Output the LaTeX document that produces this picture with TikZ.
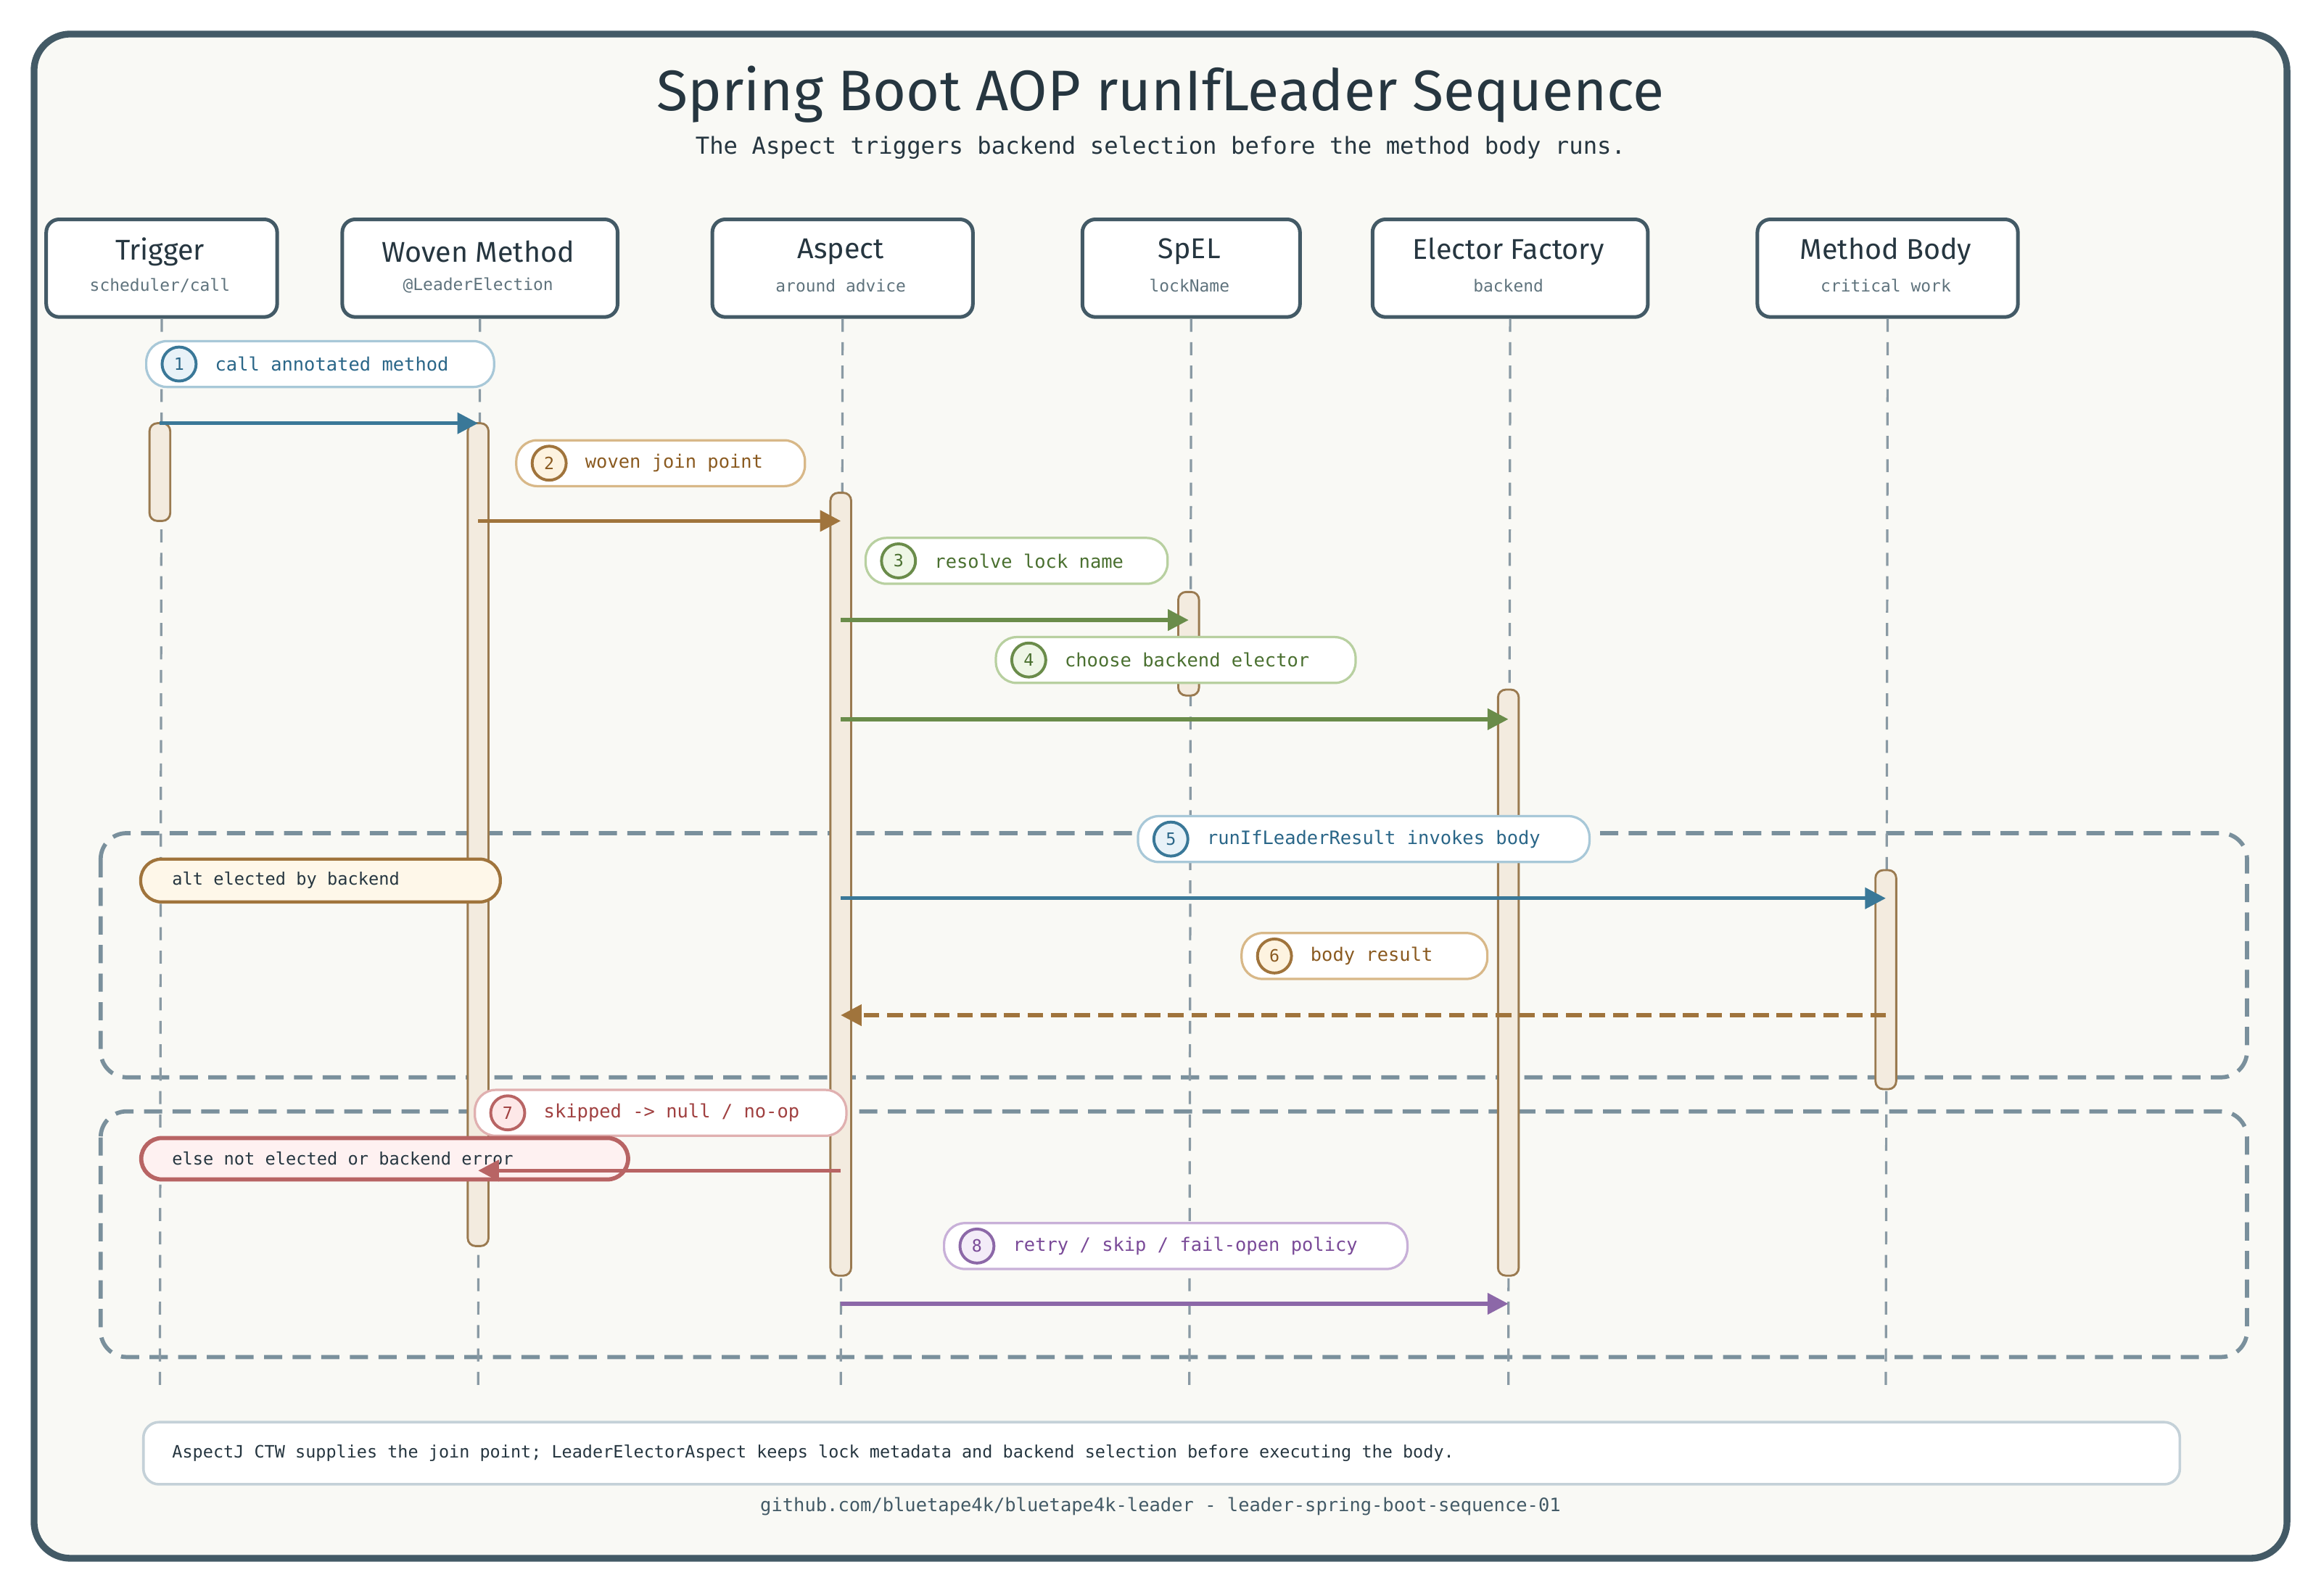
\documentclass[tikz,border=0pt]{standalone}
\usepackage{fontspec}
\setmainfont{Fira Sans}
\setmonofont{DejaVu Sans Mono}
\usetikzlibrary{arrows.meta}
\definecolor{ink}{HTML}{263640}
\definecolor{frame}{HTML}{435A66}
\definecolor{life}{HTML}{8A9AA4}
\definecolor{altc}{HTML}{7A909C}
\definecolor{actf}{HTML}{F3EBDF}
\definecolor{acts}{HTML}{9A7A50}
\definecolor{bgc}{HTML}{F9F9F5}
\definecolor{bD}{HTML}{3A7898}\definecolor{bL}{HTML}{A8C8D8}\definecolor{bF}{HTML}{E8F2F8}\definecolor{bT}{HTML}{2A6688}
\definecolor{nD}{HTML}{A0743C}\definecolor{nL}{HTML}{D8B888}\definecolor{nF}{HTML}{FDF3E0}\definecolor{nT}{HTML}{8A5A20}
\definecolor{gD}{HTML}{6A8C4A}\definecolor{gL}{HTML}{B8D0A0}\definecolor{gF}{HTML}{EEF6E6}\definecolor{gT}{HTML}{4A7030}
\definecolor{rD}{HTML}{B86464}\definecolor{rL}{HTML}{E0B0B0}\definecolor{rF}{HTML}{FDE8E8}\definecolor{rT}{HTML}{A04040}
\definecolor{pD}{HTML}{8C68A8}\definecolor{pL}{HTML}{C8B0D8}\definecolor{pF}{HTML}{F3ECF8}\definecolor{pT}{HTML}{7A4A98}
\tikzset{
 part/.style={draw=frame,line width=1.4pt,fill=white,rounded corners=5pt,minimum height=1.32cm,anchor=north west},
 lifeline/.style={draw=life,line width=0.9pt,dash pattern=on 5pt off 4pt},
 act/.style={draw=acts,fill=actf,line width=0.8pt,rounded corners=3pt},
 msg/.style={line width=1.5pt,-{Triangle[length=8pt,width=8pt]}},
 altbox/.style={draw=altc,line width=1.6pt,dash pattern=on 7pt off 4pt,rounded corners=10pt},
 mono/.style={font=\ttfamily\fontsize{7.1}{8}\selectfont},
}
\newcommand{\pill}[7]{% name x1 x2 y num text colprefix
 \node[draw=#7L,line width=0.9pt,fill=white,rounded corners=8pt,minimum width={(#3-#2)*0.02cm},minimum height=0.62cm,anchor=west] (#1) at (#2,#4) {};
 \node[draw=#7D,line width=1.1pt,fill=#7F,circle,inner sep=0pt,minimum size=0.46cm,text=#7T,font=\ttfamily\fontsize{6.5}{7}\selectfont] (#1c) at (#2+23,#4) {#5};
 \node[anchor=west,text=#7T,mono,inner sep=0pt] (#1t) at (#2+47,#4) {#6};
}
\begin{document}
\begin{tikzpicture}[x=0.02cm,y=-0.02cm]
\useasboundingbox (0,0) rectangle (1568,1078);
\fill[white] (0,0) rectangle (1568,1078);
\draw[frame,fill=bgc,line width=2.6pt,rounded corners=14pt] (23,23) rectangle (1545,1053);
\node[font=\fontsize{22}{26}\selectfont,text=ink] (title) at (784,64) {Spring Boot AOP runIfLeader Sequence};
\node[font=\ttfamily\fontsize{9}{11}\selectfont,text=ink] (sub) at (784,100) {The Aspect triggers backend selection before the method body runs.};
% alt frames
\draw[altbox] (68,563) rectangle (1518,728);
\draw[altbox] (68,751) rectangle (1518,917);
% participants
\foreach \n/\a/\b/\t/\s in {trig/30/186/Trigger/scheduler\slash call,woven/230/416/Woven Method/@LeaderElection,asp/480/656/Aspect/around advice,spel/730/877/SpEL/lockName,elec/926/1112/Elector Factory/backend,body/1186/1362/Method Body/critical work}{
 \node[part,minimum width={(\b-\a)*0.02cm}] (\n) at (\a,147) {};
 \node[font=\fontsize{11}{13}\selectfont,text=ink] (\n n) at ({(\a+\b)/2},170) {\t};
 \node[font=\ttfamily\fontsize{6.4}{8}\selectfont,text=frame!85] (\n s) at ({(\a+\b)/2},193) {\s};
 \coordinate (\n e) at ({(\a+\b)/2},940);
 \draw[lifeline] (\n.south) -- (\n e);
}
% activations
\foreach \n/\x/\a/\b in {a1/108/286/352,a2/323/286/842,a3/568/333/862,a4/803/400/470,a5/1019/466/862,a6/1274/588/736}{
 \draw[act] (\x-7,\a) rectangle (\x+7,\b);
}
% labels
\pill{p1}{98}{333}{246}{1}{call annotated method}{b}
\pill{p2}{348}{543}{313}{2}{woven join point}{n}
\pill{p3}{584}{788}{379}{3}{resolve lock name}{g}
\pill{p4}{672}{915}{446}{4}{choose backend elector}{g}
\pill{p5}{768}{1073}{567}{5}{runIfLeaderResult invokes body}{b}
\pill{p6}{838}{1004}{646}{6}{body result}{n}
\pill{p7}{320}{571}{752}{7}{skipped -> null / no-op}{r}
\pill{p8}{637}{950}{842}{8}{retry / skip / fail-open policy}{p}
% alt labels
\node[draw=nD,fill=nF!70,line width=1.2pt,rounded corners=8pt,minimum width=4.86cm,minimum height=0.58cm,anchor=west] (altl) at (94,595) {};
\node[mono,text=ink,anchor=west,inner sep=0pt,font=\ttfamily\fontsize{6.6}{8}\selectfont] (altt) at (116,595) {alt elected by backend};
% message coordinates
\foreach \n/\x/\y in {m1s/108/286,m1e/323/286,m2s/323/352,m2e/568/352,m3s/568/419,m3e/803/419,m4s/568/486,m4e/1019/486,m5s/568/607,m5e/1274/607,m6s/1274/686,m6e/568/686,m7s/568/791,m7e/323/791,m8s/568/881,m8e/1019/881}{\coordinate (\n) at (\x,\y);}
\draw[msg,bD] (m1s) -- (m1e);
\draw[msg,nD] (m2s) -- (m2e);
\draw[msg,gD] (m3s) -- (m3e);
\draw[msg,gD] (m4s) -- (m4e);
\draw[msg,bD] (m5s) -- (m5e);
\draw[msg,nD,dash pattern=on 6pt off 3pt] (m6s) -- (m6e);
\node[draw=rD,fill=rF!60,line width=1.6pt,rounded corners=8pt,minimum width=6.58cm,minimum height=0.56cm,anchor=west] (elsel) at (94,783) {};
\node[text=ink,anchor=west,inner sep=0pt,font=\ttfamily\fontsize{6.6}{8}\selectfont] (elset) at (116,783) {else not elected or backend error};
\draw[msg,rD] (m7s) -- (m7e);
\draw[msg,pD] (m8s) -- (m8e);
% footer
\node[draw=bL!70!gray!60,line width=1pt,fill=white,rounded corners=6pt,minimum width=27.52cm,minimum height=0.84cm,anchor=west] (note) at (96,982) {};
\node[text=ink,anchor=west,inner sep=0pt,font=\ttfamily\fontsize{6.55}{8}\selectfont] (notet) at (116,982) {AspectJ CTW supplies the join point; LeaderElectorAspect keeps lock metadata and backend selection before executing the body.};
\node[text=frame,font=\ttfamily\fontsize{7.1}{9}\selectfont] (gh) at (784,1018) {github.com/bluetape4k/bluetape4k-leader - leader-spring-boot-sequence-01};
\end{tikzpicture}
\end{document}
